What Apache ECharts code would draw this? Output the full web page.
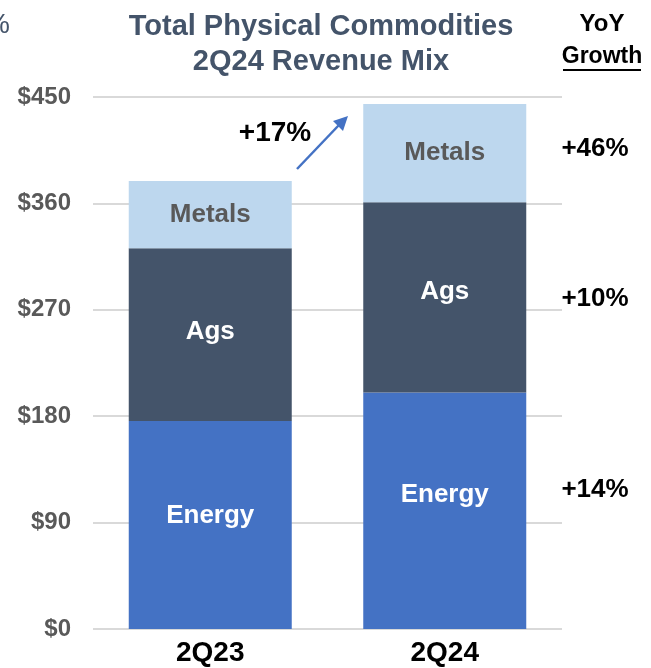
<!DOCTYPE html>
<html>
<head>
<meta charset="utf-8">
<title>Total Physical Commodities 2Q24 Revenue Mix</title>
<script src="https://cdn.jsdelivr.net/npm/echarts@6/dist/echarts.min.js"></script>
<style>
  html, body { margin: 0; padding: 0; background: #fff; }
  #container { width: 651px; height: 668px; }
</style>
</head>
<body>
<div id="container"></div>
<script>
// 类别
const quarters = ['2Q23', '2Q24']
// 各板块收入 ($M)
const energy = [176, 200]
const ags = [146, 161]
const metals = [57, 83]
// y 轴刻度
const yTicks = [0, 90, 180, 270, 360, 450]
// 同比增长（右侧）
const growthLabels = ['+46%', '+10%', '+14%']
const totalGrowth = '+17%'

const font = 'Liberation Sans, Arial, sans-serif'
const colors = {
  energy: '#4472C4',
  ags: '#44546A',
  metals: '#BDD7EE',
  title: '#44546A',
  axis: '#595959',
  grid: '#D9D9D9'
}

// 标签略偏上
const energyOffsets = [[0, -9], [0, -16]]
const agsOffsets = [[0, -3], [0, -6]]

let dom = document.getElementById('container')
let myChart = echarts.init(dom)

let option = {
  animation: false,
  title: {
    text: 'Total Physical Commodities\n2Q24 Revenue Mix',
    left: 316,
    top: 4,
    textAlign: 'center',
    textStyle: {
      fontFamily: font,
      fontSize: 29,
      fontWeight: 'bold',
      color: colors.title,
      lineHeight: 35
    }
  },
  grid: {
    left: 93,
    right: 89,
    top: 97,
    bottom: 39
  },
  xAxis: {
    type: 'category',
    data: quarters,
    axisLine: { show: false },
    axisTick: { show: false },
    axisLabel: {
      margin: 10,
      fontFamily: font,
      fontSize: 28,
      fontWeight: 'bold',
      color: '#000'
    }
  },
  yAxis: {
    type: 'value',
    min: yTicks[0],
    max: yTicks[yTicks.length - 1],
    interval: yTicks[1] - yTicks[0],
    axisLine: { show: false },
    axisTick: { show: false },
    splitLine: { lineStyle: { color: colors.grid, width: 2 } },
    axisLabel: {
      margin: 22,
      fontFamily: font,
      fontSize: 24,
      fontWeight: 'bold',
      color: colors.axis,
      formatter: v => '$' + v
    }
  },
  series: [
    {
      name: 'Energy',
      type: 'bar',
      stack: 'total',
      barWidth: 163,
      itemStyle: { color: colors.energy },
      label: {
        show: true,
        position: 'inside',
        formatter: 'Energy',
        fontFamily: font,
        fontSize: 26,
        fontWeight: 'bold',
        color: '#fff'
      },
      data: energy.map((v, i) => ({ value: v, label: { offset: energyOffsets[i] } }))
    },
    {
      name: 'Ags',
      type: 'bar',
      stack: 'total',
      barWidth: 163,
      itemStyle: { color: colors.ags },
      label: {
        show: true,
        position: 'inside',
        formatter: 'Ags',
        fontFamily: font,
        fontSize: 26,
        fontWeight: 'bold',
        color: '#fff'
      },
      data: ags.map((v, i) => ({ value: v, label: { offset: agsOffsets[i] } }))
    },
    {
      name: 'Metals',
      type: 'bar',
      stack: 'total',
      barWidth: 163,
      itemStyle: { color: colors.metals },
      label: {
        show: true,
        position: 'inside',
        formatter: 'Metals',
        fontFamily: font,
        fontSize: 26,
        fontWeight: 'bold',
        color: colors.axis
      },
      data: metals
    }
  ],
  graphic: [
    // 左上角被截掉的 "%"
    {
      type: 'text',
      x: 10,
      y: 25,
      style: { text: '%', fontFamily: font, fontSize: 28, fill: colors.title, align: 'right', verticalAlign: 'middle' }
    },
    // YoY Growth 表头
    {
      type: 'text',
      x: 602,
      y: 24,
      style: { text: 'YoY', fontFamily: font, fontSize: 24, fontWeight: 'bold', fill: '#000', align: 'center', verticalAlign: 'middle' }
    },
    {
      type: 'text',
      x: 602,
      y: 57,
      style: { text: 'Growth', fontFamily: font, fontSize: 23, fontWeight: 'bold', fill: '#000', align: 'center', verticalAlign: 'middle' }
    },
    {
      type: 'line',
      shape: { x1: 563, y1: 70, x2: 641, y2: 70 },
      style: { stroke: '#000', lineWidth: 2 }
    },
    // 右侧同比增长
    {
      type: 'text',
      x: 595,
      y: 149,
      style: { text: growthLabels[0], fontFamily: font, fontSize: 26, fontWeight: 'bold', fill: '#000', align: 'center', verticalAlign: 'middle' }
    },
    {
      type: 'text',
      x: 595,
      y: 299,
      style: { text: growthLabels[1], fontFamily: font, fontSize: 26, fontWeight: 'bold', fill: '#000', align: 'center', verticalAlign: 'middle' }
    },
    {
      type: 'text',
      x: 595,
      y: 490,
      style: { text: growthLabels[2], fontFamily: font, fontSize: 26, fontWeight: 'bold', fill: '#000', align: 'center', verticalAlign: 'middle' }
    },
    // 总增长 + 箭头
    {
      type: 'text',
      x: 275,
      y: 133,
      style: { text: totalGrowth, fontFamily: font, fontSize: 28, fontWeight: 'bold', fill: '#000', align: 'center', verticalAlign: 'middle' }
    },
    {
      type: 'line',
      shape: { x1: 297, y1: 169, x2: 339, y2: 125 },
      style: { stroke: colors.energy, lineWidth: 2.5 }
    },
    {
      type: 'polygon',
      shape: { points: [[348, 116], [343, 131], [333, 121]] },
      style: { fill: colors.energy }
    }
  ]
}

if (option && typeof option === 'object') {
  myChart.setOption(option)
}
</script>
</body>
</html>
